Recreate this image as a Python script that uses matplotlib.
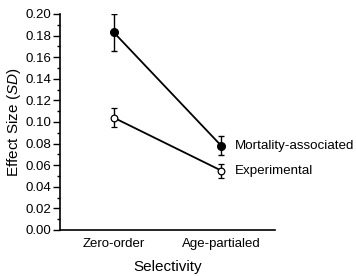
import matplotlib
matplotlib.use("Agg")
import matplotlib.pyplot as plt
from matplotlib.ticker import MultipleLocator

plt.rcParams['font.family'] = ['Liberation Sans', 'DejaVu Sans']
plt.rcParams['mathtext.fontset'] = 'custom'
plt.rcParams['mathtext.rm'] = 'Liberation Sans'
plt.rcParams['mathtext.it'] = 'Liberation Sans:italic'

categories = ["Zero-order", "Age-partialed"]
mortality = [0.183, 0.078]
mortality_err = [0.017, 0.009]
experimental = [0.104, 0.055]
experimental_err = [0.009, 0.0065]
series_names = ["Mortality-associated", "Experimental"]
yticks = [0.00, 0.02, 0.04, 0.06, 0.08, 0.10, 0.12, 0.14, 0.16, 0.18, 0.20]

fig = plt.figure(figsize=(3.56, 2.76), dpi=100)
ax = fig.add_axes([0.1685, 0.1667, 0.604, 0.7826])

x = list(range(len(categories)))
ax.errorbar(x, mortality, yerr=mortality_err, color='black', lw=1.3,
            marker='o', ms=5.5, mfc='black', mec='black', capsize=2.2, elinewidth=1.0, capthick=1.0)
ax.errorbar(x, experimental, yerr=experimental_err, color='black', lw=1.3,
            marker='o', ms=4.8, mfc='white', mec='black', mew=0.9, capsize=2.2, elinewidth=1.0, capthick=1.0)

ax.text(x[-1] + 0.13, mortality[-1], series_names[0], fontsize=9.6, va='center', ha='left', clip_on=False)
ax.text(x[-1] + 0.13, experimental[-1], series_names[1], fontsize=9.6, va='center', ha='left', clip_on=False)

ax.set_xlim(-0.5, 1.5)
ax.set_ylim(0, 0.20)
ax.set_yticks(yticks)
ax.set_yticklabels([f"{v:.2f}" for v in yticks], fontsize=9.5)
ax.yaxis.set_minor_locator(MultipleLocator(0.01))
ax.set_xticks(x)
ax.set_xticklabels(categories, fontsize=9.5)
ax.tick_params(axis='x', length=0, pad=6)
ax.tick_params(axis='y', which='major', length=5, width=1, pad=1)
ax.tick_params(axis='y', which='minor', length=2.5, width=1)
for s in ['top', 'right']:
    ax.spines[s].set_visible(False)
ax.spines['left'].set_linewidth(1.2)
ax.spines['bottom'].set_linewidth(1.2)

ax.set_xlabel("Selectivity", fontsize=11, labelpad=7)
ax.set_ylabel("Effect Size $\\mathit{(SD)}$", fontsize=11, labelpad=2)

fig.savefig("out.png", dpi=100)
